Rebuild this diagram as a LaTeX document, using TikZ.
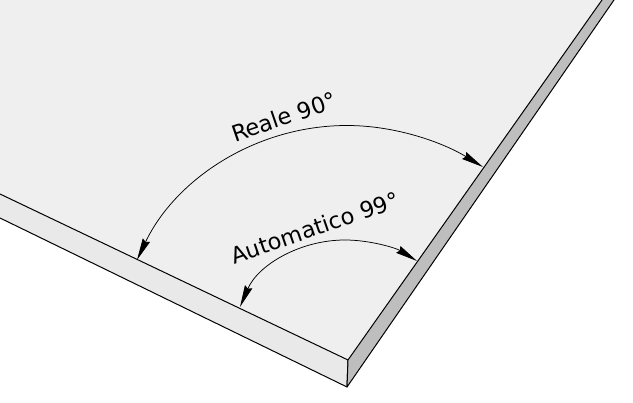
\documentclass[tikz,border=0pt]{standalone}
\usepackage{fontspec}
\setmainfont{DejaVu Sans}
\usetikzlibrary{arrows.meta}
\definecolor{topface}{HTML}{EFEFEF}
\definecolor{frontface}{HTML}{E9E9E9}
\definecolor{sideface}{HTML}{BEBEBE}
\tikzset{
  edge/.style={draw=black,line width=1pt,line join=round},
  dim/.style={draw=black,line width=0.75pt,-{Stealth[length=22pt,width=8pt,inset=2pt]}},
  lab/.style={font=\fontsize{22.5}{24}\selectfont,inner sep=0pt,text=black}
}
\begin{document}
\begin{tikzpicture}[x=1pt,y=-1pt]
\useasboundingbox (0,0) rectangle (633,403);
\coordinate (tl) at (0,194);
\coordinate (bl) at (0,218);
\coordinate (c) at (348,360);
\coordinate (b) at (347,387);
\coordinate (tr) at (602,0);
\coordinate (br) at (614,0);
\coordinate (o) at (0,0);
\fill[white] (0,0) rectangle (633,403);
\fill[topface] (o) -- (tr) -- (c) -- (tl) -- cycle;
\path[edge,fill=frontface] (tl) -- (c) -- (b) -- (bl);
\path[edge,fill=sideface] (tr) -- (c) -- (b) -- (br);
\coordinate (r1) at (347,125.5);
\coordinate (r2) at (483,167);
\coordinate (r3) at (137,260);
\coordinate (a1) at (345,240);
\coordinate (a2) at (417,261);
\coordinate (a3) at (240,307);
\draw[dim] (r1) .. controls (395,125.5) and (442,142) .. (r2);
\draw[dim] (r1) .. controls (255,125.5) and (175,180) .. (r3);
\draw[dim] (a1) .. controls (370,240) and (396,248) .. (a2);
\draw[dim] (a1) .. controls (300,240) and (258,265) .. (a3);
\node[lab,rotate=19] (reale) at (284,117) {Reale 90°};
\node[lab,rotate=19] (auto) at (315,227.5) {Automatico 99°};
\end{tikzpicture}
\end{document}
